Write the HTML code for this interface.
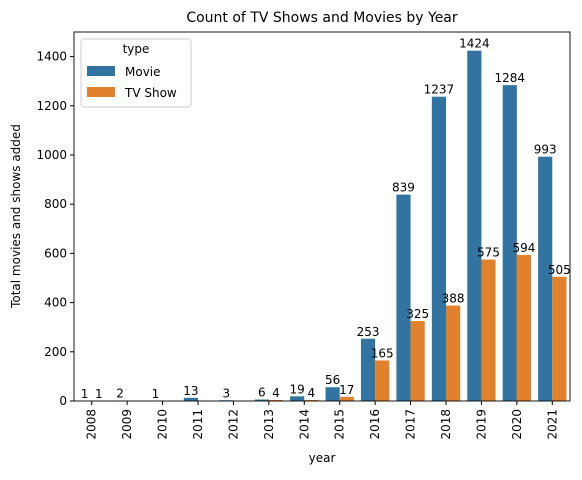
<!DOCTYPE html>
<html><head><meta charset="utf-8"><style>
body{margin:0;background:#fff;font-family:"DejaVu Sans","Liberation Sans",sans-serif;}
</style></head><body>
<svg id="c" width="582" height="476" xmlns="http://www.w3.org/2000/svg" font-family="DejaVu Sans, Liberation Sans, sans-serif">
<text x="322" y="22" font-size="14" text-anchor="middle">Count of TV Shows and Movies by Year</text>
<g id="plot"></g>
<text x="322" y="462" font-size="12" text-anchor="middle">year</text>
<text transform="translate(20,216) rotate(-90)" font-size="12" text-anchor="middle">Total movies and shows added</text>
</svg>
<script>
const years=[2008,2009,2010,2011,2012,2013,2014,2015,2016,2017,2018,2019,2020,2021];
const movies=[1,2,1,13,3,6,19,56,253,839,1237,1424,1284,993];
const tvShows=[1,0,0,0,0,4,4,17,165,325,388,575,594,505];
const yTicks=[0,200,400,600,800,1000,1200,1400];
const seriesNames=["Movie","TV Show"];
const colors=["#3274a1","#e1812c"];
const L=74,R=570,T=32,B=401,yMax=1500;
const ns="http://www.w3.org/2000/svg";
const g=document.getElementById('plot');
function y(v){return B-(v/yMax)*(B-T);}
const band=(R-L)/years.length;
function xc(i){return L+band*(i+0.5);}
function el(t,a){const e=document.createElementNS(ns,t);for(const k in a)e.setAttribute(k,a[k]);g.appendChild(e);return e;}
yTicks.forEach(v=>{
 const t=el('line',{x1:L-4,x2:L,y1:y(v),y2:y(v),stroke:'#000'});
 
 
 const tx=el('text',{x:L-7,y:y(v)+4,'font-size':12,'text-anchor':'end'});tx.textContent=v;
 
 
});
const bw=band*0.4;
[movies,tvShows].forEach((s,si)=>{
 s.forEach((v,i)=>{
  const x=xc(i)-bw+si*bw;
  const r=el('rect',{x:x,y:y(v),width:bw,height:B-y(v),fill:colors[si]});
  
  
  if(v>0){
   const t=el('text',{x:x+bw/2,y:y(v)-3,'font-size':12,'text-anchor':'middle'});t.textContent=v;
   
   
  }
 });
});
years.forEach((yr,i)=>{
 el('line',{x1:xc(i),x2:xc(i),y1:B,y2:B+4,stroke:'#000'});
 const t=el('text',{transform:`translate(${xc(i)+4},${B+8}) rotate(-90)`,'font-size':12,'text-anchor':'end'});t.textContent=yr;
 
 
});
const fr=el('rect',{x:L,y:T,width:R-L,height:B-T,fill:'none',stroke:'#000','stroke-width':0.9});


const lg=el('rect',{x:81,y:39,width:110,height:68,fill:'#fff','fill-opacity':0.8,stroke:'#ccc',rx:3});


const lt=el('text',{x:136,y:53,'font-size':12,'text-anchor':'middle'});lt.textContent='type';


seriesNames.forEach((n,i)=>{
 const sw=el('rect',{x:87,y:66+i*21,width:28,height:10,fill:colors[i]});
 
 
 const t=el('text',{x:125,y:76+i*21,'font-size':12});t.textContent=n;
 
 
});
</script>
</body></html>
